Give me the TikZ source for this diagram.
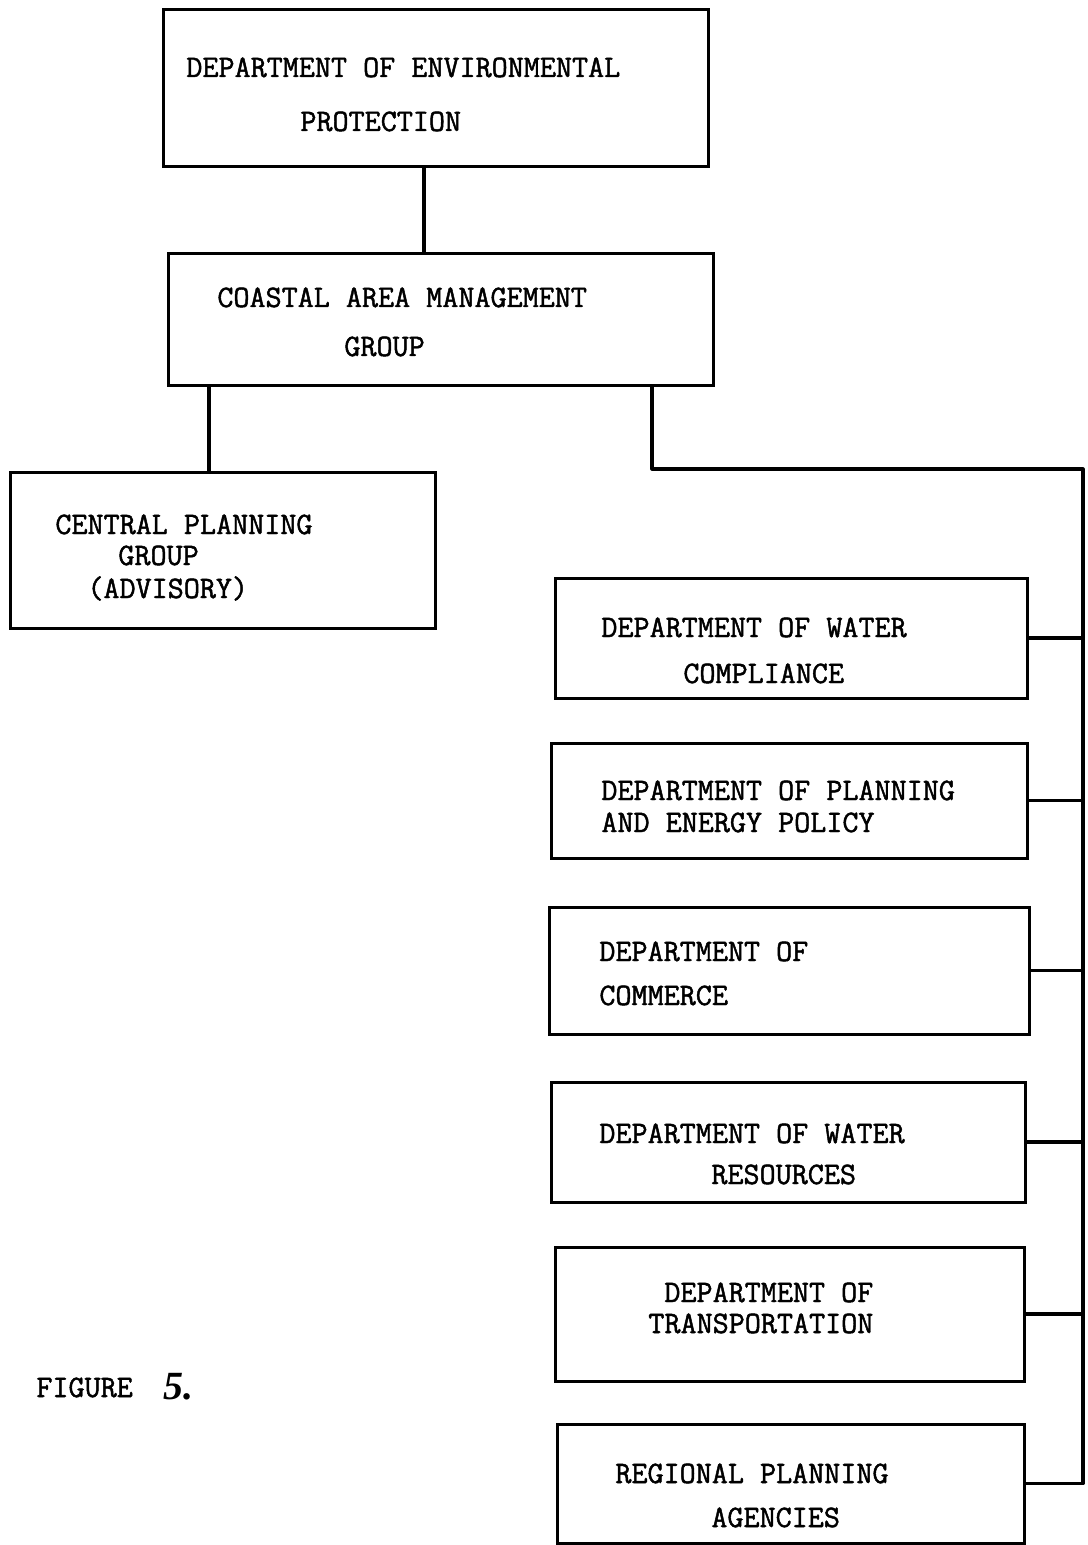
\documentclass[tikz,border=0pt]{standalone}
\usepackage{fontspec}
\newfontfamily\handfont{Liberation Serif}
\newfontfamily\twfont[FakeBold=1.5]{Latin Modern Mono}
\usetikzlibrary{fit}
\tikzset{
  box/.style={draw, line width=1.5pt, inner sep=0pt, fit={#1}},
  lbl/.style={anchor=base west, inner sep=0pt, font=\twfont\fontsize{15.6pt}{18pt}\selectfont},
  conn/.style={line width=1.6pt, line join=round}
}
\begin{document}
\begin{tikzpicture}[x=0.5pt,y=-0.5pt]
\useasboundingbox (0,0) rectangle (1087,1545);
% boxes
\node[box={(163,10) (708,167)}] (dep) {};
\node[box={(168,254) (713,386)}] (cam) {};
\node[box={(10,472) (435,628)}] (cpg) {};
\node[box={(555,578) (1027,698)}] (b1) {};
\node[box={(551,743) (1027,858)}] (b2) {};
\node[box={(549,907) (1029,1034)}] (b3) {};
\node[box={(551,1082) (1025,1202)}] (b4) {};
\node[box={(555,1247) (1024,1381)}] (b5) {};
\node[box={(557,1424) (1024,1543)}] (b6) {};
% texts
\node[lbl] (t1a) at (186,77) {DEPARTMENT OF ENVIRONMENTAL};
\node[lbl] (t1b) at (300,131) {PROTECTION};
\node[lbl] (t2a) at (217,307) {COASTAL AREA MANAGEMENT};
\node[lbl] (t2b) at (344,356) {GROUP};
\node[lbl] (t3a) at (55,534) {CENTRAL PLANNING};
\node[lbl] (t3b) at (118,565) {GROUP};
\node[lbl] (t3c) at (87,598) {(ADVISORY)};
\node[lbl] (t4a) at (601,637) {DEPARTMENT OF WATER};
\node[lbl] (t4b) at (683,683) {COMPLIANCE};
\node[lbl] (t5a) at (601,800) {DEPARTMENT OF PLANNING};
\node[lbl] (t5b) at (601,832) {AND ENERGY POLICY};
\node[lbl] (t6a) at (599,961) {DEPARTMENT OF};
\node[lbl] (t6b) at (599,1005) {COMMERCE};
\node[lbl] (t7a) at (599,1143) {DEPARTMENT OF WATER};
\node[lbl] (t7b) at (711,1184) {RESOURCES};
\node[lbl] (t8a) at (664,1302) {DEPARTMENT OF};
\node[lbl] (t8b) at (648,1333) {TRANSPORTATION};
\node[lbl] (t9a) at (615,1483) {REGIONAL PLANNING};
\node[lbl] (t9b) at (711,1527) {AGENCIES};
\node[lbl] (fig) at (36,1397) {FIGURE};
\node[anchor=base west, inner sep=0pt, font=\handfont\itshape\bfseries\fontsize{20pt}{20pt}\selectfont] (fignum) at (163,1399) {5.};
% connectors
\coordinate (c0) at (424,0);
\coordinate (c1) at (209,0);
\coordinate (j1) at (652,469);
\coordinate (j2) at (1083,469);
\draw[conn] (c0 |- dep.south) -- (c0 |- cam.north);
\draw[conn] (c1 |- cam.south) -- (c1 |- cpg.north);
\draw[conn] (j1 |- cam.south) -- (j1) -- (j2) -- (j2 |- b6.east) -- (b6.east);
\foreach \b in {b1,b2,b3,b4,b5}{
  \draw[conn] (\b.east) -- (\b.east -| j2);
}
\end{tikzpicture}
\end{document}
